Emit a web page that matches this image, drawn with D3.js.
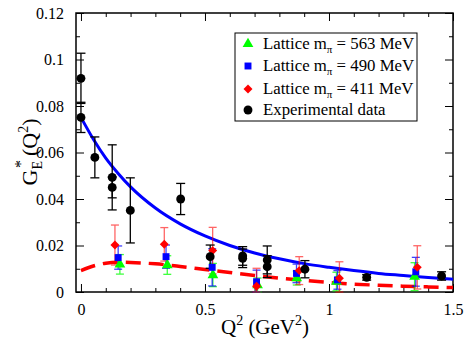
<!DOCTYPE html>
<html><head><meta charset="utf-8">
<script src="https://cdn.jsdelivr.net/npm/d3@7"></script>
<style>
body{margin:0;background:#fff;}
svg text{font-family:"Liberation Serif","DejaVu Serif","Times New Roman",serif !important;}
</style></head>
<body><svg id="c" width="466" height="341"></svg>
<script>
// Experimental data
const expQ2  = [0, 0, 0.056, 0.126, 0.126, 0.199, 0.402, 0.521, 0.652, 0.652, 0.751, 0.751, 0.903, 1.152, 1.454];
const expG   = [0.0919, 0.0751, 0.0579, 0.0493, 0.0450, 0.0351, 0.0400, 0.0152, 0.0155, 0.0145, 0.0138, 0.0109, 0.0098, 0.0063, 0.0069];
const expErr = [0.0108, 0.0065, 0.0088, 0.014, 0.0045, 0.014, 0.0067, 0.005, 0.004, 0.004, 0.006, 0.0047, 0.0037, 0.0012, 0.0018];
// Lattice m_pi = 563 MeV
const l563Q2  = [0.157, 0.348, 0.532, 0.712, 0.870, 1.030, 1.345];
const l563G   = [0.0119, 0.0116, 0.0073, 0.0030, 0.0060, 0.0045, 0.0066];
const l563Err = [0.0042, 0.0040, 0.0050, 0.0030, 0.0030, 0.0040, 0.0060];
// Lattice m_pi = 490 MeV
const l490Q2  = [0.150, 0.343, 0.529, 0.708, 0.869, 1.034, 1.350];
const l490G   = [0.0148, 0.0152, 0.0106, 0.0044, 0.0080, 0.0052, 0.0087];
const l490Err = [0.0050, 0.0050, 0.0080, 0.0050, 0.0040, 0.0040, 0.0062];
// Lattice m_pi = 411 MeV
const l411Q2  = [0.137, 0.336, 0.531, 0.708, 0.880, 1.042, 1.356];
const l411G   = [0.0202, 0.0205, 0.0178, 0.0025, 0.0092, 0.0059, 0.0106];
const l411Err = [0.0086, 0.0072, 0.0100, 0.0077, 0.0060, 0.0071, 0.0093];
// Fit curves
const fitQ2   = [0, 0.05, 0.1, 0.15, 0.2, 0.3, 0.4, 0.5, 0.6, 0.7, 0.8, 0.9, 1.0, 1.1, 1.2, 1.3, 1.4, 1.5];
const blueFit = [0.0751, 0.0657, 0.0576, 0.0510, 0.0452, 0.0361, 0.0293, 0.0241, 0.0200, 0.0168, 0.0143, 0.0122, 0.0106, 0.0092, 0.0080, 0.0071, 0.0062, 0.0055];
const redFit  = [0.0092, 0.0112, 0.0124, 0.0128, 0.0127, 0.0121, 0.0110, 0.0097, 0.0084, 0.0071, 0.0060, 0.0050, 0.0041, 0.0034, 0.0029, 0.0025, 0.0022, 0.0019];
const xTicks = [0, 0.5, 1, 1.5];
const xTickLabels = ["0", "0.5", "1", "1.5"];
const yTicks = [0, 0.02, 0.04, 0.06, 0.08, 0.1, 0.12];
const yTickLabels = ["0", "0.02", "0.04", "0.06", "0.08", "0.1", "0.12"];
const legendLabels = ["563", "490", "411"];

const svg = d3.select("#c");
const L = 76, R = 453, T = 13, B = 292;
const x = d3.scaleLinear().domain([-0.02, 1.5]).range([L, R]);
const y = d3.scaleLinear().domain([0, 0.12]).range([B, T]);

const fmtX = d => xTickLabels[xTicks.indexOf(d)];
const fmtY = d => yTickLabels[yTicks.findIndex(v => Math.abs(v - d) < 1e-9)];
const xMinor = d3.range(0, 1.5001, 0.1).filter(v => !xTicks.some(t => Math.abs(t - v) < 1e-9));
const yMinor = d3.range(0.01, 0.12, 0.02);

function axisG(axis, tr) { return svg.append("g").attr("transform", tr).call(axis); }
const bx = axisG(d3.axisBottom(x).tickValues(xTicks).tickFormat(fmtX).tickSizeInner(-8).tickSizeOuter(0).tickPadding(12), `translate(0,${B})`);
axisG(d3.axisBottom(x).tickValues(xMinor).tickFormat("").tickSizeInner(-4).tickSizeOuter(0), `translate(0,${B})`);
axisG(d3.axisTop(x).tickValues(xTicks).tickFormat("").tickSizeInner(-8).tickSizeOuter(0), `translate(0,${T})`);
axisG(d3.axisTop(x).tickValues(xMinor).tickFormat("").tickSizeInner(-4).tickSizeOuter(0), `translate(0,${T})`);
axisG(d3.axisLeft(y).tickValues(yTicks).tickFormat(fmtY).tickSizeInner(-8).tickSizeOuter(0).tickPadding(12), `translate(${L},0)`);
axisG(d3.axisLeft(y).tickValues(yMinor).tickFormat("").tickSizeInner(-4).tickSizeOuter(0), `translate(${L},0)`);
axisG(d3.axisRight(y).tickValues(yTicks).tickFormat("").tickSizeInner(-8).tickSizeOuter(0), `translate(${R},0)`);
axisG(d3.axisRight(y).tickValues(yMinor).tickFormat("").tickSizeInner(-4).tickSizeOuter(0), `translate(${R},0)`);
svg.selectAll(".domain").remove();
svg.selectAll("g").attr("font-family", null);
svg.selectAll(".tick line").attr("stroke", "#000").attr("stroke-width", 1);
svg.selectAll(".tick text").attr("font-size", 16).attr("fill", "#000");
bx.selectAll(".tick text").attr("dy", "0.71em");
svg.append("rect").attr("x", L).attr("y", T).attr("width", R - L).attr("height", B - T)
  .attr("fill", "none").attr("stroke", "#000").attr("stroke-width", 1.5);

const plot = svg.append("g");

const line = d3.line().x(d => x(d[0])).y(d => y(d[1])).curve(d3.curveMonotoneX);
plot.append("path").datum(fitQ2.map((q, i) => [q, redFit[i]])).attr("d", line)
  .attr("fill", "none").attr("stroke", "#ff0000").attr("stroke-width", 3.5).attr("stroke-dasharray", "15,8");
plot.append("path").datum(fitQ2.map((q, i) => [q, blueFit[i]])).attr("d", line)
  .attr("fill", "none").attr("stroke", "#0000ff").attr("stroke-width", 3);

function errBars(qs, gs, es, color, op, cap) {
  const g = plot.append("g").attr("stroke", color).attr("stroke-width", 1.3).attr("opacity", op);
  qs.forEach((q, i) => {
    const px = x(q), y1 = y(gs[i] + es[i]), y0 = y(Math.max(0, gs[i] - es[i]));
    g.append("line").attr("x1", px).attr("x2", px).attr("y1", y1).attr("y2", y0);
    g.append("line").attr("x1", px - cap).attr("x2", px + cap).attr("y1", y1).attr("y2", y1);
    g.append("line").attr("x1", px - cap).attr("x2", px + cap).attr("y1", y0).attr("y2", y0);
  });
}
errBars(l563Q2, l563G, l563Err, "#00ff00", 0.75, 4);
errBars(l490Q2, l490G, l490Err, "#0000ff", 0.75, 4);
errBars(l411Q2, l411G, l411Err, "#ff0000", 0.6, 4);
errBars(expQ2, expG, expErr, "#000", 1, 4.5);

const sym = {
  tri: { d: d3.symbol().type(d3.symbolTriangle).size(50)(), rot: 0 },
  sq: { d: d3.symbol().type(d3.symbolSquare).size(48)(), rot: 0 },
  dia: { d: d3.symbol().type(d3.symbolSquare).size(40)(), rot: 45 },
  cir: { d: d3.symbol().type(d3.symbolCircle).size(62)(), rot: 0 }
};
function markers(qs, gs, s, color) {
  plot.append("g").selectAll("path").data(qs).join("path")
    .attr("d", s.d).attr("fill", color)
    .attr("transform", (q, i) => `translate(${x(q)},${y(gs[i])}) rotate(${s.rot})`);
}
markers(l563Q2, l563G, sym.tri, "#00ff00");
markers(l490Q2, l490G, sym.sq, "#0000ff");
markers(l411Q2, l411G, sym.dia, "#ff0000");
markers(expQ2, expG, sym.cir, "#000");

// legend
const lg = svg.append("g");
lg.append("rect").attr("x", 235).attr("y", 33).attr("width", 182).attr("height", 88)
  .attr("fill", "#fff").attr("stroke", "#000").attr("stroke-width", 1);
const rowsY = [44, 66, 89, 110];
const lsyms = [[sym.tri, "#00ff00"], [sym.sq, "#0000ff"], [sym.dia, "#ff0000"], [sym.cir, "#000"]];
lsyms.forEach((s, i) => {
  lg.append("path").attr("d", s[0].d).attr("fill", s[1])
    .attr("transform", `translate(248,${rowsY[i]}) rotate(${s[0].rot})`);
});
legendLabels.forEach((m, i) => {
  const t = lg.append("text").attr("x", 263).attr("y", rowsY[i] + 5).attr("font-size", 16.8);
  t.append("tspan").text("Lattice m");
  t.append("tspan").attr("font-size", 11).attr("dy", 4).text("π");
  t.append("tspan").attr("dy", -4).text(` = ${m} MeV`);
});
lg.append("text").attr("x", 263).attr("y", rowsY[3] + 5).attr("font-size", 16.8).text("Experimental data");

// axis labels
const xl = svg.append("text").attr("x", 265).attr("y", 334).attr("text-anchor", "middle").attr("font-size", 21);
xl.append("tspan").text("Q");
xl.append("tspan").attr("font-size", 14).attr("dy", -9).text("2");
xl.append("tspan").attr("dy", 9).text(" (GeV");
xl.append("tspan").attr("font-size", 14).attr("dy", -9).text("2");
xl.append("tspan").attr("dy", 9).text(")");

const yl = svg.append("text").attr("transform", "translate(37,152) rotate(-90)").attr("text-anchor", "middle").attr("font-size", 22);
yl.append("tspan").text("G");
yl.append("tspan").attr("font-size", 14).attr("dy", 5).text("E");
yl.append("tspan").attr("font-size", 16).attr("dx", -7).attr("dy", -16).text("*");
yl.append("tspan").attr("dx", 4).attr("dy", 11).text("(Q");
yl.append("tspan").attr("font-size", 14).attr("dy", -9).text("2");
yl.append("tspan").attr("dy", 9).text(")");
</script></body></html>
